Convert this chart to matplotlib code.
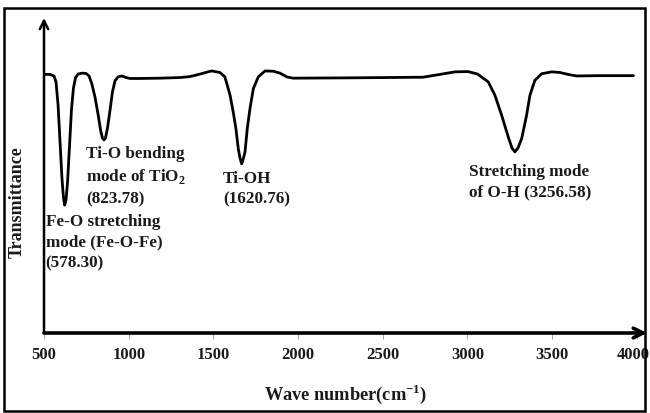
import matplotlib
matplotlib.use("Agg")
import matplotlib.pyplot as plt
from matplotlib.patches import Rectangle
from matplotlib.transforms import ScaledTranslation

# Spectrum (wave number, transmittance in arbitrary %)
wavenumber = [500, 535, 559, 571, 583, 594, 606, 615, 622, 630, 639, 651, 662, 674,
              686, 701, 724, 748, 766, 783, 801, 819, 834, 845, 854, 863, 875, 890,
              904, 919, 937, 960, 984, 1008, 1067, 1185, 1303, 1362, 1421, 1490,
              1539, 1568, 1598, 1617, 1633, 1647, 1657, 1667, 1676, 1687, 1700,
              1716, 1736, 1765, 1805, 1854, 1893, 1934, 1970, 2306, 2737, 2838,
              2926, 3003, 3060, 3123, 3162, 3202, 3241, 3263, 3280, 3298, 3320,
              3349, 3369, 3398, 3438, 3497, 3546, 3593, 3645, 3782, 3980]
transmittance = [82.1, 82.1, 81.6, 79.7, 72.4, 61.3, 49.2, 42.9, 40.6, 42.2, 47.9, 59.7,
                 70.8, 77.8, 81.0, 82.2, 82.5, 82.4, 81.6, 79.0, 74.9, 69.5, 64.4, 61.9,
                 61.3, 61.9, 65.1, 70.8, 76.5, 80.0, 81.3, 81.6, 81.1, 80.8, 80.8, 80.9,
                 81.1, 81.4, 82.2, 83.2, 82.7, 81.3, 75.6, 70.2, 64.9, 58.5, 55.6, 53.7,
                 55.2, 57.5, 64.9, 71.2, 77.6, 81.3, 83.2, 83.1, 82.5, 81.3, 80.9, 81.0,
                 81.2, 82.1, 82.9, 83.0, 82.2, 79.7, 75.5, 69.1, 62.2, 58.7, 57.5, 58.7,
                 61.7, 69.1, 75.5, 80.2, 82.3, 82.9, 82.7, 82.1, 81.6, 81.7, 81.7]

x_ticks = [500, 1000, 1500, 2000, 2500, 3000, 3500, 4000]
x_tick_labels = ["500", "1000", "1500", "2000", "2500", "3000", "3500", "4000"]

annotations = [
    ("Fe-O stretching\nmode (Fe-O-Fe)\n(578.30)", 509, 37.8),
    ("Ti-O bending\nmode of TiO$_\\mathbf{2}$\n(823.78)", 748, 59.4),
    ("Ti-OH\n(1620.76)", 1557, 51.4),
    ("Stretching mode\nof O-H (3256.58)", 3009, 53.7),
]

plt.rcParams['font.family'] = ['Liberation Serif', 'DejaVu Serif']
plt.rcParams['mathtext.fontset'] = 'custom'
plt.rcParams['mathtext.rm'] = 'Liberation Serif'
plt.rcParams['mathtext.bf'] = 'Liberation Serif:bold'

W, H = 650, 413
TXT = "#1a1a1a"
fig = plt.figure(figsize=(W / 100, H / 100), dpi=100)
ax = fig.add_axes([44 / W, (H - 333) / H, (647 - 44) / W, (333 - 18) / H])
ax.set_xlim(500, 4060)
ax.set_ylim(0, 100)

ax.plot(wavenumber, transmittance, color="black", lw=2.0,
        solid_joinstyle="round", solid_capstyle="round")

for s in ax.spines.values():
    s.set_visible(False)

# axis arrows
ax.annotate("", xy=(1.0, 0), xytext=(0, 0), xycoords="axes fraction",
            arrowprops=dict(arrowstyle="->,head_length=0.7,head_width=0.35",
                            lw=2.6, color="black", shrinkA=0, shrinkB=0))
ax.annotate("", xy=(0, 1.0), xytext=(0, 0), xycoords="axes fraction",
            arrowprops=dict(arrowstyle="->,head_length=0.6,head_width=0.3",
                            lw=1.8, color="black", shrinkA=0, shrinkB=0))

ax.set_xticks(x_ticks)
ax.set_xticklabels(x_tick_labels, fontsize=12, fontweight="bold", color=TXT)
ax.tick_params(axis="x", direction="out", length=4, width=0.8, color="#aaaaaa", pad=6)
ax.set_yticks([])
# keep the last label inside the frame
last = ax.get_xticklabels()[-1]
last.set_transform(last.get_transform() + ScaledTranslation(-4 / 100, 0, fig.dpi_scale_trans))

ax.set_xlabel("Wave number(cm$^{\\mathbf{-1}}$)", fontsize=13.2, fontweight="bold",
              labelpad=14, color=TXT)
fig.text(17 / W, 1 - 202 / H, "Transmittance", rotation=90, fontsize=13,
         fontweight="bold", ha="center", va="center", color=TXT)

for txt, x, y in annotations:
    ax.text(x, y, txt, fontsize=12.3, fontweight="bold", ha="left", va="top",
            linespacing=1.4, color=TXT)

fig.patches.append(Rectangle((4 / W, 2 / H), (645 - 4) / W, (405 - 2) / H,
                             transform=fig.transFigure, fill=False,
                             edgecolor="black", lw=1.8))

fig.savefig("out.png", dpi=100)
